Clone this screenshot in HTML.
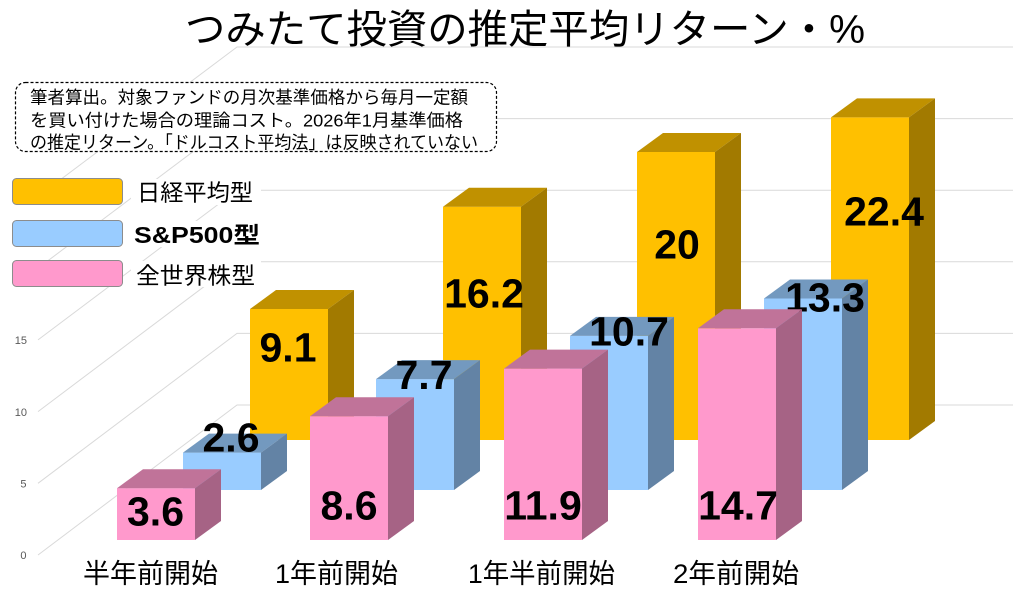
<!DOCTYPE html>
<html><head><meta charset="utf-8">
<style>
html,body{margin:0;padding:0;background:#fff;}
svg{display:block;}
.jp{font-family:"Liberation Sans","Noto Sans CJK JP",sans-serif;}
.lbl{font-family:"Liberation Sans","Noto Sans CJK JP",sans-serif;font-weight:bold;font-size:41px;fill:#000;}
.tick{font-family:"Liberation Sans",sans-serif;font-size:11px;fill:#595959;}
</style></head>
<body>
<svg width="1024" height="599" viewBox="0 0 1024 599" xmlns="http://www.w3.org/2000/svg">
<rect width="1024" height="599" fill="#fff"/>
<!-- gridlines -->
<g stroke="#D9D9D9" stroke-width="1" fill="none">
<polyline points="38,555 237,405 1013,405"/>
<polyline points="38,483.3 237,333.4 1013,333.4"/>
<polyline points="38,411.6 237,261.8 1013,261.8"/>
<polyline points="38,339.9 237,190.2 1013,190.2"/>
<polyline points="38,268.2 237,118.6 1013,118.6"/>
<polyline points="38,196.5 237,47 1013,47"/>
</g>
<!-- tick labels -->
<g class="tick" text-anchor="end">
<text x="26.5" y="559">0</text>
<text x="26.5" y="487.5">5</text>
<text x="27" y="416">10</text>
<text x="27" y="344">15</text>
</g>

<!-- Gold row (back) -->
<g>
<!-- bar: x, top, base=440 -->
<rect x="250" y="309" width="78" height="131" fill="#FFC000"/>
<polygon points="250,309 328,309 354,290 276,290" fill="#C09100"/>
<polygon points="328,309 354,290 354,421 328,440" fill="#A27A00"/>

<rect x="443" y="206.7" width="78" height="233.3" fill="#FFC000"/>
<polygon points="443,206.7 521,206.7 547,187.7 469,187.7" fill="#C09100"/>
<polygon points="521,206.7 547,187.7 547,421 521,440" fill="#A27A00"/>

<rect x="637" y="152" width="78" height="288" fill="#FFC000"/>
<polygon points="637,152 715,152 741,133 663,133" fill="#C09100"/>
<polygon points="715,152 741,133 741,421 715,440" fill="#A27A00"/>

<rect x="831" y="117.4" width="78" height="322.6" fill="#FFC000"/>
<polygon points="831,117.4 909,117.4 935,98.4 857,98.4" fill="#C09100"/>
<polygon points="909,117.4 935,98.4 935,421 909,440" fill="#A27A00"/>
</g>
<g class="lbl" text-anchor="middle">
<text x="288" y="361.5">9.1</text>
<text x="484" y="307.5">16.2</text>
<text x="677" y="258.5">20</text>
<text x="884" y="225.5">22.4</text>
</g>

<!-- Blue row (middle) base=490 -->
<g>
<rect x="183" y="452.6" width="78" height="37.4" fill="#99CCFF"/>
<polygon points="183,452.6 261,452.6 287,433.6 209,433.6" fill="#7399BF"/>
<polygon points="261,452.6 287,433.6 287,471 261,490" fill="#6383A5"/>

<rect x="376" y="379.1" width="78" height="110.9" fill="#99CCFF"/>
<polygon points="376,379.1 454,379.1 480,360.1 402,360.1" fill="#7399BF"/>
<polygon points="454,379.1 480,360.1 480,471 454,490" fill="#6383A5"/>

<rect x="570" y="335.9" width="78" height="154.1" fill="#99CCFF"/>
<polygon points="570,335.9 648,335.9 674,316.9 596,316.9" fill="#7399BF"/>
<polygon points="648,335.9 674,316.9 674,471 648,490" fill="#6383A5"/>

<rect x="764" y="298.5" width="78" height="191.5" fill="#99CCFF"/>
<polygon points="764,298.5 842,298.5 868,279.5 790,279.5" fill="#7399BF"/>
<polygon points="842,298.5 868,279.5 868,471 842,490" fill="#6383A5"/>
</g>
<g class="lbl" text-anchor="middle">
<text x="231" y="451.5">2.6</text>
<text x="424" y="389">7.7</text>
<text x="629" y="345.5">10.7</text>
<text x="825" y="311.5">13.3</text>
</g>

<!-- Pink row (front) base=540 -->
<g>
<rect x="117" y="488.2" width="78" height="51.8" fill="#FF99CC"/>
<polygon points="117,488.2 195,488.2 221,469.2 143,469.2" fill="#C07399"/>
<polygon points="195,488.2 221,469.2 221,521 195,540" fill="#A66385"/>

<rect x="310" y="416.2" width="78" height="123.8" fill="#FF99CC"/>
<polygon points="310,416.2 388,416.2 414,397.2 336,397.2" fill="#C07399"/>
<polygon points="388,416.2 414,397.2 414,521 388,540" fill="#A66385"/>

<rect x="504" y="368.6" width="78" height="171.4" fill="#FF99CC"/>
<polygon points="504,368.6 582,368.6 608,349.6 530,349.6" fill="#C07399"/>
<polygon points="582,368.6 608,349.6 608,521 582,540" fill="#A66385"/>

<rect x="698" y="328.3" width="78" height="211.7" fill="#FF99CC"/>
<polygon points="698,328.3 776,328.3 802,309.3 724,309.3" fill="#C07399"/>
<polygon points="776,328.3 802,309.3 802,521 776,540" fill="#A66385"/>
</g>
<g class="lbl" text-anchor="middle">
<text x="155.5" y="525.5">3.6</text>
<text x="349" y="519.5">8.6</text>
<text x="543" y="519.5">11.9</text>
<text x="738" y="519.5">14.7</text>
</g>

<!-- Category labels -->
<g class="jp" font-size="27" fill="#000">
<text x="83" y="583" textLength="135" lengthAdjust="spacingAndGlyphs">半年前開始</text>
<text x="275" y="583" textLength="123" lengthAdjust="spacingAndGlyphs">1年前開始</text>
<text x="468" y="583" textLength="147" lengthAdjust="spacingAndGlyphs">1年半前開始</text>
<text x="673" y="583" textLength="126" lengthAdjust="spacingAndGlyphs">2年前開始</text>
</g>

<!-- Title -->
<text class="jp" x="185" y="43" font-size="40" fill="#000" textLength="680" lengthAdjust="spacingAndGlyphs">つみたて投資の推定平均リターン・%</text>

<!-- Note box -->
<rect x="15.5" y="82.5" width="481" height="69" rx="10" ry="10" fill="#fff" stroke="#000" stroke-width="1.2" stroke-dasharray="3,2"/>
<g class="jp" font-size="17.5" fill="#000">
<text x="30" y="103.5" textLength="438" lengthAdjust="spacingAndGlyphs">筆者算出。対象ファンドの月次基準価格から毎月一定額</text>
<text x="30" y="126.5" textLength="433" lengthAdjust="spacingAndGlyphs">を買い付けた場合の理論コスト。2026年1月基準価格</text>
<text x="30" y="148.5" textLength="448" lengthAdjust="spacingAndGlyphs">の推定リターン。「ドルコスト平均法」は反映されていない</text>
</g>

<!-- Legend -->
<rect x="12.5" y="178.5" width="110" height="26" rx="4" fill="#FFC000" stroke="#8c8c8c" stroke-width="1"/>
<rect x="12.5" y="220.5" width="110" height="26" rx="4" fill="#99CCFF" stroke="#8c8c8c" stroke-width="1"/>
<rect x="12.5" y="260.5" width="110" height="26" rx="4" fill="#FF99CC" stroke="#8c8c8c" stroke-width="1"/>
<rect x="131" y="179" width="130" height="26" fill="#fff"/>
<rect x="131" y="221" width="133" height="26" fill="#fff"/>
<rect x="131" y="261" width="130" height="26" fill="#fff"/>
<g class="jp" font-size="23" fill="#000">
<text x="137" y="200.5" textLength="116" lengthAdjust="spacingAndGlyphs">日経平均型</text>
<text x="134" y="243" font-weight="bold" textLength="126" lengthAdjust="spacingAndGlyphs">S&amp;P500型</text>
<text x="136" y="283.5" textLength="119" lengthAdjust="spacingAndGlyphs">全世界株型</text>
</g>
</svg>
</body></html>
